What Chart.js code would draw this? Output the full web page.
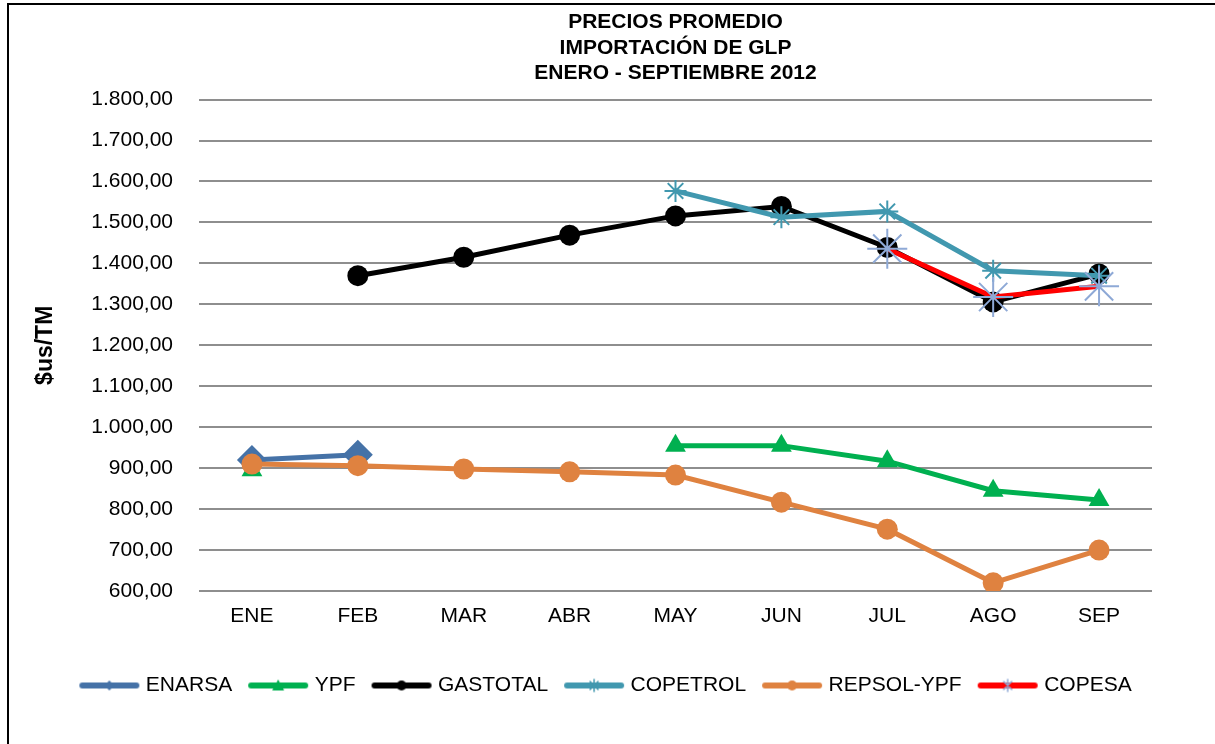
<!DOCTYPE html>
<html>
<head>
<meta charset="utf-8">
<script src="https://cdn.jsdelivr.net/npm/chart.js@4.4.1/dist/chart.umd.min.js"></script>
<style>
  html, body { margin: 0; padding: 0; background: #fff; }
  #wrap { position: relative; width: 1215px; height: 744px; }
  #frame { position: absolute; left: 7px; top: 3px; width: 1220px; height: 760px; border: 2px solid #000; box-sizing: border-box; pointer-events: none; }
</style>
</head>
<body>
<div id="wrap">
  <canvas id="chart" width="1215" height="744"></canvas>
  <div id="frame"></div>
</div>
<script>
const months = ["ENE", "FEB", "MAR", "ABR", "MAY", "JUN", "JUL", "AGO", "SEP"];
const titleLines = ["PRECIOS PROMEDIO", "IMPORTACIÓN DE GLP", "ENERO - SEPTIEMBRE 2012"];
const yTitle = "$us/TM";

const enarsa   = [920, 933, null, null, null, null, null, null, null];
const ypf      = [895, null, null, null, 955, 955, 917, 845, 822];
const gastotal = [null, 1370, 1415, 1469, 1516, 1539, 1439, 1306, 1374];
const copetrol = [null, null, null, null, 1577, 1513, 1527, 1382, 1370];
const repsol   = [910, 906, 898, 891, 883, 817, 751, 620, 700];
const copesa   = [null, null, null, null, null, null, 1436, 1318, 1344];

const yMin = 600;
const yMax = 1800;
const yStep = 100;

const FONT = "'Liberation Sans', Arial, sans-serif";

function fmt(v) {
  const s = Math.round(v).toString().replace(/\B(?=(\d{3})+(?!\d))/g, ".");
  return s + ",00";
}

// little legend glyph: line with a marker in the middle
function legendIcon(lineColor, markerColor, style) {
  const c = document.createElement("canvas");
  c.width = 64; c.height = 16;
  const g = c.getContext("2d");
  g.strokeStyle = lineColor;
  g.lineWidth = 6;
  g.lineCap = "round";
  g.beginPath(); g.moveTo(5, 8); g.lineTo(59, 8); g.stroke();
  g.fillStyle = markerColor;
  g.strokeStyle = markerColor;
  if (style === "rectRot") {
    g.beginPath(); g.moveTo(32, 3); g.lineTo(37, 8); g.lineTo(32, 13); g.lineTo(27, 8); g.closePath(); g.fill();
  } else if (style === "triangle") {
    g.beginPath(); g.moveTo(32, 2); g.lineTo(38, 13); g.lineTo(26, 13); g.closePath(); g.fill();
  } else if (style === "circle") {
    g.beginPath(); g.arc(32, 8, 5, 0, Math.PI * 2); g.fill();
  } else if (style === "star") {
    g.lineWidth = 1.5;
    g.beginPath();
    g.moveTo(32, 2); g.lineTo(32, 14);
    g.moveTo(28, 4); g.lineTo(36, 12);
    g.moveTo(36, 4); g.lineTo(28, 12);
    g.stroke();
  }
  return c;
}

const series = [
  { label: "ENARSA", data: enarsa, color: "#4572A7", marker: "#4572A7", style: "rectRot", radius: 15, bw: 0 },
  { label: "YPF", data: ypf, color: "#00B050", marker: "#00B050", style: "triangle", radius: 12, bw: 0 },
  { label: "GASTOTAL", data: gastotal, color: "#000000", marker: "#000000", style: "circle", radius: 10.5, bw: 0 },
  { label: "COPETROL", data: copetrol, color: "#4198AF", marker: "#4198AF", style: "star", radius: 11, bw: 2 },
  { label: "REPSOL-YPF", data: repsol, color: "#DF8240", marker: "#DF8240", style: "circle", radius: 10.5, bw: 0 },
  { label: "COPESA", data: copesa, color: "#FF0000", marker: "#8EA9D6", style: "star", radius: 20, bw: 2 }
];

const datasets = series.map((s, i) => ({
  label: s.label,
  data: s.data,
  borderColor: s.color,
  backgroundColor: s.marker,
  borderWidth: 5,
  pointStyle: s.style,
  pointRadius: s.radius,
  pointHoverRadius: s.radius,
  pointBackgroundColor: s.marker,
  pointBorderColor: s.marker,
  pointBorderWidth: s.bw,
  spanGaps: false,
  tension: 0,
  order: series.length - i,
  icon: legendIcon(s.color, s.marker, s.style)
}));

new Chart(document.getElementById("chart"), {
  type: "line",
  data: { labels: months, datasets },
  options: {
    responsive: false,
    animation: false,
    layout: { padding: { left: 0, right: 0, top: 0, bottom: 38 } },
    plugins: {
      title: {
        display: true,
        fullSize: false,
        text: titleLines,
        color: "#000",
        font: { family: FONT, size: 21, weight: "bold", lineHeight: 1.2 },
        padding: { top: 10, bottom: 14 }
      },
      legend: {
        position: "bottom",
        labels: {
          color: "#000",
          font: { family: FONT, size: 21 },
          usePointStyle: true,
          pointStyleWidth: 52,
          padding: 20,
          generateLabels: chart => chart.data.datasets.map((ds, i) => ({
            text: ds.label,
            fontColor: "#000",
            pointStyle: ds.icon,
            datasetIndex: i,
            hidden: false,
            lineWidth: 0,
            strokeStyle: "transparent",
            fillStyle: "transparent"
          }))
        }
      },
      tooltip: { enabled: false }
    },
    scales: {
      x: {
        offset: true,
        grid: { display: false, drawTicks: false },
        border: { display: false },
        ticks: {
          color: "#000",
          padding: 13,
          font: { family: FONT, size: 21 }
        },
        afterFit: scale => { scale.height = 64; }
      },
      y: {
        min: yMin,
        max: yMax,
        grid: { color: "#8E8E8E", lineWidth: 2, drawTicks: false },
        border: { display: false },
        ticks: {
          stepSize: yStep,
          color: "#000",
          padding: 26,
          font: { family: FONT, size: 21 },
          callback: v => fmt(v)
        },
        title: {
          display: true,
          text: yTitle,
          color: "#000",
          font: { family: FONT, size: 23, weight: "bold" },
          padding: { top: 32, bottom: 0 }
        },
        afterFit: scale => { scale.width = 199; }
      },
      yRight: {
        position: "right",
        grid: { display: false, drawTicks: false },
        border: { display: false },
        ticks: { display: false },
        afterFit: scale => { scale.width = 63; }
      }
    }
  }
});
</script>
</body>
</html>
